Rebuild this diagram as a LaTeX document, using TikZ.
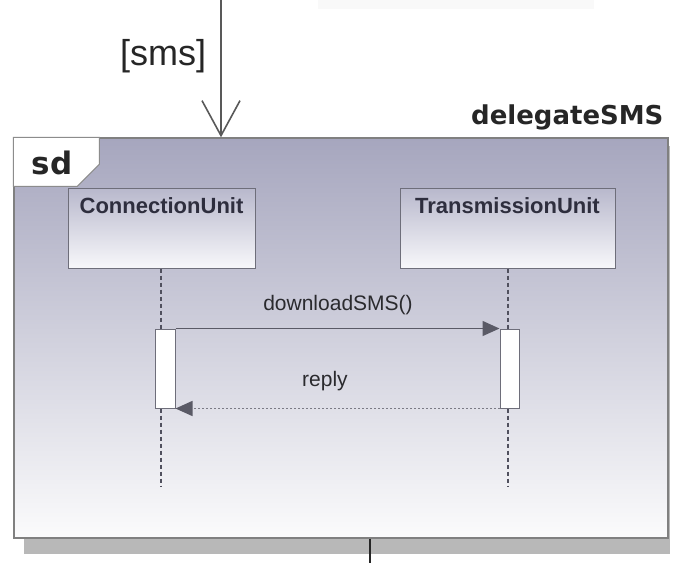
\documentclass[tikz,border=0pt]{standalone}
\usepackage{fontspec}
\setmainfont{Liberation Sans}
\newfontfamily\djv{DejaVu Sans}
\usetikzlibrary{arrows.meta}

\definecolor{frametop}{HTML}{A6A6BE}
\definecolor{framemid}{HTML}{D4D4E0}
\definecolor{framebot}{HTML}{FBFBFC}
\definecolor{boxtop}{HTML}{B8B8CC}
\definecolor{boxbot}{HTML}{F7F7FA}
\definecolor{edge}{HTML}{6E6E7A}
\definecolor{dots}{HTML}{50505E}
\definecolor{ink}{HTML}{2A2A2E}
\definecolor{headink}{HTML}{2E2E3E}
\definecolor{msg}{HTML}{5A5A66}

\tikzset{
  lifehead/.style={draw=edge, line width=1pt, top color=boxtop, bottom color=boxbot,
    minimum width=187pt, minimum height=80pt, inner sep=0pt},
  headlabel/.style={font=\fontsize{22}{26}\selectfont\bfseries, text=headink, anchor=north},
  actbox/.style={draw=edge, line width=1pt, fill=white, minimum height=79pt, inner sep=0pt},
  lifeline/.style={draw=dots, line width=2.4pt, dash pattern=on 4pt off 3pt},
  callmsg/.style={draw=msg, line width=1.4pt, -{Triangle[length=17pt,width=15pt]}},
  replymsg/.style={draw=msg!80, line width=1.4pt, dash pattern=on 2pt off 2pt,
    -{Triangle[length=17pt,width=15pt,color=msg,fill=msg]}},
  msglabel/.style={font=\fontsize{21}{24}\selectfont, text=ink}
}

\begin{document}
\begin{tikzpicture}[x=1pt,y=-1pt]
\useasboundingbox (0,0) rectangle (673,563);
\fill[white] (0,0) rectangle (673,563);

% faint band along the top edge
\fill[black!2.5] (318,0) rectangle (594,9);

% frame shadow
\fill[black!28] (24,146) rectangle (670,554);

% interaction frame
\node[draw=black!50, line width=1.4pt, minimum width=654pt, minimum height=400pt,
  inner sep=0pt, shade, shading angle=0, top color=frametop, middle color=framemid,
  bottom color=framebot] (frame) at (341,338) {};

% frame name tab
\path[fill=white, draw=black!45, line width=1pt]
  (frame.north west) -- ++(86,0) -- ++(0,27) -- ++(-22,22) -- ++(-64,0) -- cycle;
\node[font=\djv\fontsize{31}{34}\selectfont\bfseries, text=black!85] (sd) at (52,163) {sd};

% diagram name
\node[font=\djv\fontsize{26}{30}\selectfont\bfseries, text=black!85, anchor=east]
  (dname) at (667,117) {delegateSMS};

% incoming flow
\coordinate (inflow) at (221,0);
\draw[draw=black!65, line width=1.6pt,
  -{Straight Barb[length=35pt,width=38pt,line width=1.6pt]}]
  (inflow) -- (inflow |- frame.north);
\node[font=\fontsize{36}{40}\selectfont, text=black!85] (guard) at (163,56) {[sms]};

% outgoing flow
\coordinate (outflow) at (370,563);
\draw[black!85, line width=2pt] (frame.south -| outflow) -- (outflow);

% lifeline heads
\node[lifehead] (cu) at (161.5,228) {};
\node[headlabel] (cul) at ([yshift=-7pt]cu.north) {ConnectionUnit};
\node[lifehead, minimum width=215pt] (tu) at (507.5,228) {};
\node[headlabel] (tul) at ([yshift=-7pt]tu.north) {TransmissionUnit};

% lifelines
\coordinate (cuend) at (161,486);
\coordinate (tuend) at (508,486);
\draw[lifeline] (cu.south -| cuend) -- (cuend);
\draw[lifeline] (tu.south -| tuend) -- (tuend);

% activations
\node[actbox, minimum width=20pt] (ca) at (165,368.5) {};
\node[actbox, minimum width=19pt] (ta) at (509.5,368.5) {};

% messages
\draw[callmsg] (ca.north east) -- (ta.north west);
\node[msglabel] (m1) at (338,305) {downloadSMS()};
\draw[replymsg] (ta.south west) -- (ca.south east);
\node[msglabel] (m2) at (325,381) {reply};
\end{tikzpicture}
\end{document}
